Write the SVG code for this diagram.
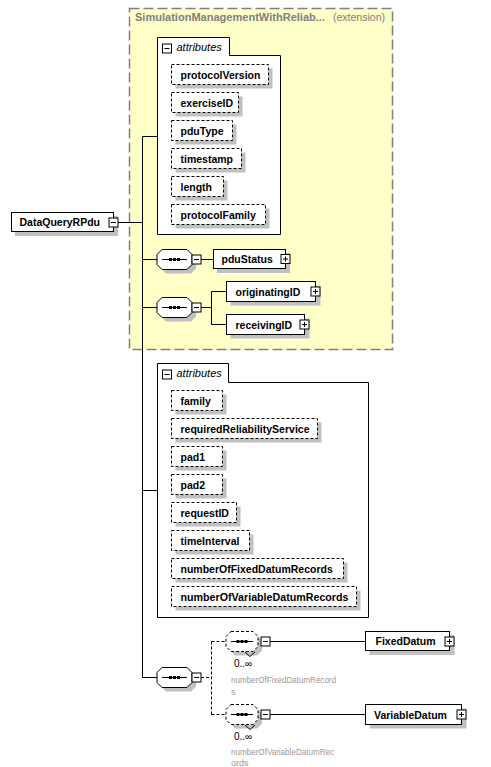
<svg xmlns="http://www.w3.org/2000/svg" xmlns:xlink="http://www.w3.org/1999/xlink" width="491" height="767" viewBox="0 0 491 767">
<style>
.sh{fill:#c0c0c0;stroke:none}
.el{fill:#fff;stroke:#000;stroke-width:1}
.at{fill:#fff;stroke:#000;stroke-width:1;stroke-dasharray:3,2}
.t{font-family:"Liberation Sans",Arial,sans-serif;font-size:10.5px;font-weight:bold;fill:#000}
.it{font-family:"Liberation Sans",Arial,sans-serif;font-size:11px;font-style:italic;fill:#000}
.ln{stroke:#000;stroke-width:1;fill:none}
.dl{stroke:#000;stroke-width:1;fill:none;stroke-dasharray:3,2}
.tg{fill:#fff;stroke:#000;stroke-width:1}
.occ{font-family:"Liberation Sans",Arial,sans-serif;font-size:10px;fill:#000}
.lab{font-family:"Liberation Sans",Arial,sans-serif;font-size:9px;fill:#999}
.ext{font-family:"Liberation Sans",Arial,sans-serif;font-size:10.5px;fill:#808080}
</style>
<defs>
<g id="minus"><rect class="tg" x="0" y="0" width="9" height="9"/><line class="ln" x1="2" y1="4.5" x2="7" y2="4.5"/></g>
<g id="plus"><rect class="tg" x="0" y="0" width="9" height="9"/><line class="ln" x1="2" y1="4.5" x2="7" y2="4.5"/><line class="ln" x1="4.5" y1="2" x2="4.5" y2="7"/></g>
<g id="seq">
<path class="sh" d="M9,4 H34 L39,9 V19 L34,24 H9 L4,19 V9 Z"/>
<path class="el" d="M5,0 H30 L35,5 V15 L30,20 H5 L0,15 V5 Z"/>
<line class="ln" x1="5" y1="10" x2="30" y2="10"/>
<rect x="12" y="8.5" width="3" height="3" fill="#000"/>
<rect x="16" y="8.5" width="3" height="3" fill="#000"/>
<rect x="20" y="8.5" width="3" height="3" fill="#000"/>
</g>
<g id="oseq">
<path class="sh" d="M9,4 H31 L36,9 V19 L31,24 H9 L4,19 V9 Z"/>
<path class="at" d="M5,0 H27 L32,5 V15 L27,20 H5 L0,15 V5 Z"/>
<polyline class="ln" points="19,20.5 24,25 29,20.5"/>
<line class="ln" x1="5" y1="10" x2="27" y2="10"/>
<rect x="10.5" y="8.5" width="3" height="3" fill="#000"/>
<rect x="14.5" y="8.5" width="3" height="3" fill="#000"/>
<rect x="18.5" y="8.5" width="3" height="3" fill="#000"/>
</g>
</defs>

<g id="extension">
<rect x="129.5" y="8.5" width="263" height="341" fill="#ffffc8" stroke="#808080" stroke-width="1.5" stroke-dasharray="10,4"/>
<text x="135" y="21" class="ext" font-weight="bold" textLength="190" lengthAdjust="spacingAndGlyphs">SimulationManagementWithReliab...</text>
<text x="333" y="21" class="ext" textLength="52" lengthAdjust="spacingAndGlyphs">(extension)</text>
</g>

<g id="connectors">
<line class="ln" x1="142.5" y1="136.5" x2="142.5" y2="677.5"/>
<line class="ln" x1="142.5" y1="136.5" x2="157.5" y2="136.5"/>
<line class="ln" x1="118" y1="222.5" x2="142.5" y2="222.5"/>
<line class="ln" x1="142.5" y1="259.5" x2="157" y2="259.5"/>
<line class="ln" x1="142.5" y1="307.5" x2="157" y2="307.5"/>
<line class="ln" x1="142.5" y1="490.5" x2="157.5" y2="490.5"/>
<line class="ln" x1="142.5" y1="677.5" x2="157" y2="677.5"/>
<line class="ln" x1="201" y1="259.5" x2="213" y2="259.5"/>
<line class="ln" x1="201" y1="307.5" x2="211.5" y2="307.5"/>
<line class="ln" x1="211.5" y1="291.5" x2="211.5" y2="324.5"/>
<line class="ln" x1="211.5" y1="291.5" x2="226.5" y2="291.5"/>
<line class="ln" x1="211.5" y1="324.5" x2="226.5" y2="324.5"/>
<line class="dl" x1="201" y1="677.5" x2="211.5" y2="677.5"/>
<line class="dl" x1="211.5" y1="641.5" x2="211.5" y2="714.5"/>
<line class="dl" x1="211.5" y1="641.5" x2="226" y2="641.5"/>
<line class="dl" x1="211.5" y1="714.5" x2="226" y2="714.5"/>
<line class="ln" x1="270" y1="641.5" x2="365.5" y2="641.5"/>
<line class="ln" x1="270" y1="714.5" x2="365.5" y2="714.5"/>
</g>

<g id="DataQueryRPdu">
<rect class="sh" x="15" y="216" width="103" height="20"/>
<rect class="el" x="11.5" y="212.5" width="102" height="19"/>
<text x="19.5" y="226" class="t">DataQueryRPdu</text>
<use xlink:href="#minus" x="109" y="218"/>
</g>

<g id="attributes1">
<path class="el" d="M157.5,234.5 V37.5 H229.5 V55.5 H280.5 V234.5 Z"/>
<use xlink:href="#minus" x="162.5" y="44"/>
<text x="176.5" y="51" class="it">attributes</text>
<g id="protocolVersion"><rect class="sh" x="175.5" y="68.5" width="97" height="20"/><rect class="at" x="171.5" y="64.5" width="97" height="20"/><text x="180.5" y="78.5" class="t">protocolVersion</text></g>
<g id="exerciseID"><rect class="sh" x="175.5" y="96.5" width="67" height="20"/><rect class="at" x="171.5" y="92.5" width="67" height="20"/><text x="180.5" y="106.5" class="t">exerciseID</text></g>
<g id="pduType"><rect class="sh" x="175.5" y="124.5" width="61" height="20"/><rect class="at" x="171.5" y="120.5" width="61" height="20"/><text x="180.5" y="134.5" class="t">pduType</text></g>
<g id="timestamp"><rect class="sh" x="175.5" y="152.5" width="70" height="20"/><rect class="at" x="171.5" y="148.5" width="70" height="20"/><text x="180.5" y="162.5" class="t">timestamp</text></g>
<g id="length"><rect class="sh" x="175.5" y="180.5" width="52" height="20"/><rect class="at" x="171.5" y="176.5" width="52" height="20"/><text x="180.5" y="190.5" class="t">length</text></g>
<g id="protocolFamily"><rect class="sh" x="175.5" y="208.5" width="94" height="20"/><rect class="at" x="171.5" y="204.5" width="94" height="20"/><text x="180.5" y="218.5" class="t">protocolFamily</text></g>
</g>

<g id="sequence1">
<use xlink:href="#seq" x="157" y="249.5"/>
<use xlink:href="#minus" x="192" y="255"/>
</g>
<g id="pduStatus">
<rect class="sh" x="217" y="253" width="73" height="20"/>
<rect class="el" x="213.5" y="249.5" width="72" height="19"/>
<text x="221.5" y="263" class="t">pduStatus</text>
<use xlink:href="#plus" x="281" y="254.5"/>
</g>

<g id="sequence2">
<use xlink:href="#seq" x="157" y="297.5"/>
<use xlink:href="#minus" x="192" y="303"/>
</g>
<g id="originatingID">
<rect class="sh" x="230.5" y="285.5" width="90" height="20"/>
<rect class="el" x="226.5" y="281.5" width="89" height="20"/>
<text x="235.5" y="295.5" class="t">originatingID</text>
<use xlink:href="#plus" x="311" y="287"/>
</g>
<g id="receivingID">
<rect class="sh" x="230.5" y="318.5" width="79" height="20"/>
<rect class="el" x="226.5" y="314.5" width="78" height="20"/>
<text x="235.5" y="328.5" class="t">receivingID</text>
<use xlink:href="#plus" x="300" y="320"/>
</g>

<g id="attributes2">
<path class="el" d="M157.5,617.5 V363.5 H228.5 V382.5 H368.5 V617.5 Z"/>
<use xlink:href="#minus" x="162.5" y="370"/>
<text x="176.5" y="377" class="it">attributes</text>
<g id="family"><rect class="sh" x="175.5" y="394.5" width="51" height="20"/><rect class="at" x="171.5" y="390.5" width="51" height="20"/><text x="180.5" y="404.5" class="t">family</text></g>
<g id="requiredReliabilityService"><rect class="sh" x="175.5" y="422.5" width="146" height="20"/><rect class="at" x="171.5" y="418.5" width="146" height="20"/><text x="180.5" y="432.5" class="t">requiredReliabilityService</text></g>
<g id="pad1"><rect class="sh" x="175.5" y="450.5" width="51" height="20"/><rect class="at" x="171.5" y="446.5" width="51" height="20"/><text x="180.5" y="460.5" class="t">pad1</text></g>
<g id="pad2"><rect class="sh" x="175.5" y="478.5" width="51" height="20"/><rect class="at" x="171.5" y="474.5" width="51" height="20"/><text x="180.5" y="488.5" class="t">pad2</text></g>
<g id="requestID"><rect class="sh" x="175.5" y="506.5" width="65" height="20"/><rect class="at" x="171.5" y="502.5" width="65" height="20"/><text x="180.5" y="516.5" class="t">requestID</text></g>
<g id="timeInterval"><rect class="sh" x="175.5" y="534.5" width="78" height="20"/><rect class="at" x="171.5" y="530.5" width="78" height="20"/><text x="180.5" y="544.5" class="t">timeInterval</text></g>
<g id="numberOfFixedDatumRecords"><rect class="sh" x="175.5" y="562.5" width="172" height="20"/><rect class="at" x="171.5" y="558.5" width="172" height="20"/><text x="180.5" y="572.5" class="t">numberOfFixedDatumRecords</text></g>
<g id="numberOfVariableDatumRecords"><rect class="sh" x="175.5" y="590.5" width="185" height="20"/><rect class="at" x="171.5" y="586.5" width="185" height="20"/><text x="180.5" y="600.5" class="t" textLength="168" lengthAdjust="spacingAndGlyphs">numberOfVariableDatumRecords</text></g>
</g>

<g id="sequence3">
<use xlink:href="#seq" x="157" y="667.5"/>
<use xlink:href="#minus" x="192" y="673"/>
</g>

<g id="optionalSequence1">
<use xlink:href="#oseq" x="226" y="631.5"/>
<use xlink:href="#minus" x="261" y="637"/>
<text x="234" y="667" class="occ">0..∞</text>
<text x="231" y="683" class="lab" textLength="105" lengthAdjust="spacingAndGlyphs">numberOfFixedDatumRecord</text>
<text x="231" y="695" class="lab">s</text>
</g>
<g id="FixedDatum">
<rect class="sh" x="369.5" y="635" width="85" height="20"/>
<rect class="el" x="365.5" y="631.5" width="84" height="19"/>
<text x="375.5" y="645" class="t">FixedDatum</text>
<use xlink:href="#plus" x="445" y="637"/>
</g>

<g id="optionalSequence2">
<use xlink:href="#oseq" x="226" y="704.5"/>
<use xlink:href="#minus" x="261" y="710"/>
<text x="234" y="740" class="occ">0..∞</text>
<text x="231" y="755" class="lab" textLength="103" lengthAdjust="spacingAndGlyphs">numberOfVariableDatumRec</text>
<text x="231" y="766" class="lab">ords</text>
</g>
<g id="VariableDatum">
<rect class="sh" x="369.5" y="708.5" width="97" height="20"/>
<rect class="el" x="365.5" y="704.5" width="96" height="20"/>
<text x="374" y="718.5" class="t">VariableDatum</text>
<use xlink:href="#plus" x="457" y="710"/>
</g>
</svg>
